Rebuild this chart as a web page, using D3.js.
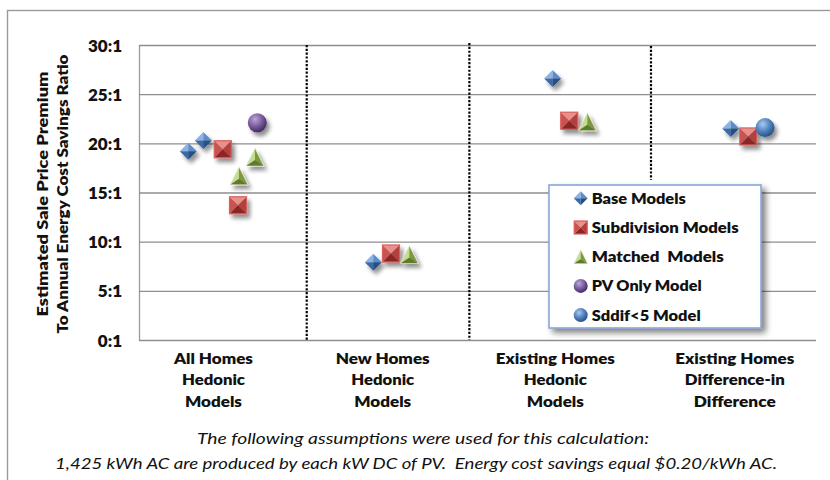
<!DOCTYPE html>
<html><head><meta charset="utf-8">
<script src="https://cdn.jsdelivr.net/npm/d3@7"></script>
<style>
body{margin:0;background:#fff;}
svg text{font-family:Lato,"Open Sans",sans-serif;}
</style>
</head><body><svg id="c" width="830" height="480"></svg>
<script>
// ---------- data ----------
const yTicks = [0, 5, 10, 15, 20, 25, 30];
const categories = [
  ["All Homes", "Hedonic", "Models"],
  ["New Homes", "Hedonic", "Models"],
  ["Existing Homes", "Hedonic", "Models"],
  ["Existing Homes", "Difference-in", "Difference"]
];
const categoryX = [0.44, 1.44, 2.46, 3.52];
const dividerX = [0.991, 1.952, 3.025];
const dividerTop = [30, 30.2, 29.9];
const dividerBottom = [0, 0, 16.3];
const seriesNames = ["Base Models", "Subdivision Models", "Matched  Models", "PV Only Model", "Sddif<5 Model"];
const baseX = [0.291, 0.380, 1.384, 2.444, 3.496];
const baseY = [19.2, 20.3, 7.9, 26.6, 21.5];
const subdivisionX = [0.495, 0.585, 1.489, 2.542, 3.600];
const subdivisionY = [19.4, 13.7, 8.8, 22.3, 20.7];
const matchedX = [0.591, 0.685, 1.597, 2.649];
const matchedY = [16.7, 18.6, 8.7, 22.2];
const pvOnlyX = [0.699];
const pvOnlyY = [22.1];
const sddifX = [3.699];
const sddifY = [21.6];
const yTitle = ["Estimated Sale Price Premium", "To Annual Energy Cost Savings Ratio"];
const footnote = ["The following assumptions were used for this calculation:",
  "1,425 kWh AC are produced by each kW DC of PV.  Energy cost savings equal $0.20/kWh AC."];

// ---------- setup ----------
const svg = d3.select("#c");
const L = 139, R = 816, T = 45, B = 340;
const x = d3.scaleLinear().domain([0, 4]).range([L, R]);
const y = d3.scaleLinear().domain([0, 30]).range([B, T]);

const defs = svg.append("defs");
const f = defs.append("filter").attr("id", "sh").attr("x", "-50%").attr("y", "-50%").attr("width", "220%").attr("height", "220%");
f.append("feGaussianBlur").attr("in", "SourceAlpha").attr("stdDeviation", 2).attr("result", "b");
f.append("feOffset").attr("in", "b").attr("dx", 3).attr("dy", 4).attr("result", "o");
f.append("feComponentTransfer").attr("in", "o").attr("result", "o2")
  .append("feFuncA").attr("type", "linear").attr("slope", 0.45);
const fm = f.append("feMerge");
fm.append("feMergeNode").attr("in", "o2");
fm.append("feMergeNode").attr("in", "SourceGraphic");

const f2 = defs.append("filter").attr("id", "lsh").attr("x", "-10%").attr("y", "-10%").attr("width", "130%").attr("height", "130%");
f2.append("feGaussianBlur").attr("in", "SourceAlpha").attr("stdDeviation", 3).attr("result", "b");
f2.append("feOffset").attr("in", "b").attr("dx", 4).attr("dy", 4).attr("result", "o");
f2.append("feComponentTransfer").attr("in", "o").attr("result", "o2")
  .append("feFuncA").attr("type", "linear").attr("slope", 0.5);
const fm2 = f2.append("feMerge");
fm2.append("feMergeNode").attr("in", "o2");
fm2.append("feMergeNode").attr("in", "SourceGraphic");

function sphereGrad(id, light, base, dark) {
  const g = defs.append("radialGradient").attr("id", id).attr("cx", "38%").attr("cy", "32%").attr("r", "70%");
  g.append("stop").attr("offset", "0%").attr("stop-color", light);
  g.append("stop").attr("offset", "55%").attr("stop-color", base);
  g.append("stop").attr("offset", "100%").attr("stop-color", dark);
}
sphereGrad("gPurple", "#b9a6d6", "#7a5c9e", "#3f2a5e");
sphereGrad("gBlue", "#a9c8ee", "#4f81bd", "#244e80");

// outer border
svg.append("rect").attr("x", 7.5).attr("y", 10.5).attr("width", 900).attr("height", 600)
  .attr("fill", "none").attr("stroke", "#9a9a9a").attr("stroke-width", 1.4);

// ---------- axes ----------
const yAxis = d3.axisLeft(y).tickValues(yTicks).tickFormat(d => d + ":1")
  .tickSizeInner(-(R - L)).tickSizeOuter(0).tickPadding(17);
const ag = svg.append("g").attr("transform", `translate(${L},0)`).call(yAxis);
ag.select(".domain").attr("stroke", "#9a9a9a").attr("stroke-width", 1.3);
ag.selectAll(".tick line").attr("stroke", "#8e8e8e").attr("stroke-width", 1.4);
ag.selectAll(".tick text").attr("font-size", 17).attr("font-weight", 800).attr("fill", "#111")
  .attr("font-family", "Lato, sans-serif").attr("dy", "0.36em");

// dividers
svg.append("g").selectAll("line").data(dividerX).join("line")
  .attr("x1", d => x(d)).attr("x2", d => x(d))
  .attr("y1", (d, i) => y(dividerTop[i])).attr("y2", (d, i) => y(dividerBottom[i]))
  .attr("stroke", "#000").attr("stroke-width", 2.2).attr("stroke-dasharray", "2.2,1.6");

// y title
const titleLens = [245, 279];
svg.append("g").selectAll("text").data(yTitle).join("text")
  .attr("transform", (d, i) => `translate(${43 + i * 20 + 5},194) rotate(-90)`)
  .attr("text-anchor", "middle").attr("font-size", 15).attr("font-weight", 800).attr("fill", "#111")
  .attr("textLength", (d, i) => titleLens[i]).attr("lengthAdjust", "spacingAndGlyphs")
  .text(d => d);

// category labels
const catLens = [[79, 63, 57], [94, 63, 57], [119, 63, 57], [119, 100, 82]];
const cg = svg.append("g").selectAll("text").data(categories).join("text")
  .attr("text-anchor", "middle").attr("font-size", 15).attr("font-weight", 800).attr("fill", "#111");
cg.selectAll("tspan").data((d, i) => d.map((t, j) => ({ t, i, j }))).join("tspan")
  .attr("x", d => x(categoryX[d.i])).attr("y", d => 363.5 + d.j * 21.7)
  .attr("textLength", d => catLens[d.i][d.j]).attr("lengthAdjust", "spacingAndGlyphs")
  .text(d => d.t);

// footnote
const footX = [423, 416], footLen = [452, 722];
svg.append("g").selectAll("text").data(footnote).join("text")
  .attr("x", (d, i) => footX[i]).attr("y", (d, i) => 443.5 + i * 25)
  .attr("text-anchor", "middle").attr("font-size", 16).attr("font-style", "italic").attr("fill", "#111")
  .attr("textLength", (d, i) => footLen[i]).attr("lengthAdjust", "spacingAndGlyphs")
  .style("white-space", "pre").text(d => d);

// ---------- markers ----------
const pal = {
  diamond: ["#8db3e2", "#5b8ccb", "#3a6ba8", "#254f84"],
  square: ["#e8908d", "#c9524f", "#b23f3c", "#8a2725"],
  triangle: ["#c5dd92", "#9bbb59", "#7c9a3c", "#5f7a2a"]
};
function poly(p) { return "M" + p.map(q => q.join(",")).join("L") + "Z"; }
function drawMarker(g, type, s) {
  const h = s / 2;
  if (type === "diamond") {
    const c = pal.diamond, Tp = [0, -h], Rp = [h, 0], Bp = [0, h], Lp = [-h, 0], C = [0, 0];
    g.append("path").attr("d", poly([Lp, Tp, C])).attr("fill", c[0]);
    g.append("path").attr("d", poly([Tp, Rp, C])).attr("fill", c[1]);
    g.append("path").attr("d", poly([Bp, Lp, C])).attr("fill", c[2]);
    g.append("path").attr("d", poly([Rp, Bp, C])).attr("fill", c[3]);
  } else if (type === "square") {
    const c = pal.square, a = [-h, -h], b = [h, -h], d = [h, h], e = [-h, h], C = [0, 0];
    g.append("path").attr("d", poly([a, b, C])).attr("fill", c[0]);
    g.append("path").attr("d", poly([e, a, C])).attr("fill", c[1]);
    g.append("path").attr("d", poly([b, d, C])).attr("fill", c[2]);
    g.append("path").attr("d", poly([d, e, C])).attr("fill", c[3]);
    g.append("rect").attr("x", -h).attr("y", -h).attr("width", s).attr("height", s)
      .attr("fill", "none").attr("stroke", "#d9605c").attr("stroke-width", 1.2);
  } else if (type === "triangle") {
    const c = pal.triangle, Tp = [0, -h], Rp = [h, h], Lp = [-h, h], C = [0, h / 3];
    g.append("path").attr("d", poly([Tp, Lp, C])).attr("fill", c[0]);
    g.append("path").attr("d", poly([Tp, Rp, C])).attr("fill", c[2]);
    g.append("path").attr("d", poly([Lp, Rp, C])).attr("fill", c[3]);
    g.append("path").attr("d", poly([Tp, Rp, Lp])).attr("fill", "none").attr("stroke", "#eef5e0").attr("stroke-width", 0.6);
  } else {
    g.append("circle").attr("r", h).attr("fill", type === "purple" ? "url(#gPurple)" : "url(#gBlue)");
  }
}

const series = [
  { name: seriesNames[0], type: "diamond", xs: baseX, ys: baseY, size: 17, ls: 14 },
  { name: seriesNames[1], type: "square", xs: subdivisionX, ys: subdivisionY, size: 17, ls: 13 },
  { name: seriesNames[2], type: "triangle", xs: matchedX, ys: matchedY, size: 18, ls: 14 },
  { name: seriesNames[3], type: "purple", xs: pvOnlyX, ys: pvOnlyY, size: 19, ls: 14 },
  { name: seriesNames[4], type: "blue", xs: sddifX, ys: sddifY, size: 19, ls: 14 }
];

const pg = svg.append("g");
series.forEach(s => {
  s.xs.forEach((xv, i) => {
    const g = pg.append("g").attr("transform", `translate(${x(xv)},${y(s.ys[i])})`).attr("filter", "url(#sh)");
    drawMarker(g, s.type, s.size);
  });
});

// ---------- legend ----------
const lg = svg.append("g");
lg.append("rect").attr("x", 549).attr("y", 185).attr("width", 212).attr("height", 143)
  .attr("fill", "#fff").attr("stroke", "#8aa6d6").attr("stroke-width", 1.6).attr("filter", "url(#lsh)");
const legLens = [94, 147, 132, 110, 109];
series.forEach((s, i) => {
  const cy = 198.3 + i * 29.2;
  const g = lg.append("g").attr("transform", `translate(580.7,${cy})`);
  drawMarker(g, s.type, s.ls);
  lg.append("text").attr("x", 591.7).attr("y", cy + 5.5).attr("font-size", 15).attr("font-weight", 800)
    .attr("fill", "#111").attr("textLength", legLens[i]).attr("lengthAdjust", "spacingAndGlyphs")
    .style("white-space", "pre").text(s.name);
});
</script>
</body></html>
